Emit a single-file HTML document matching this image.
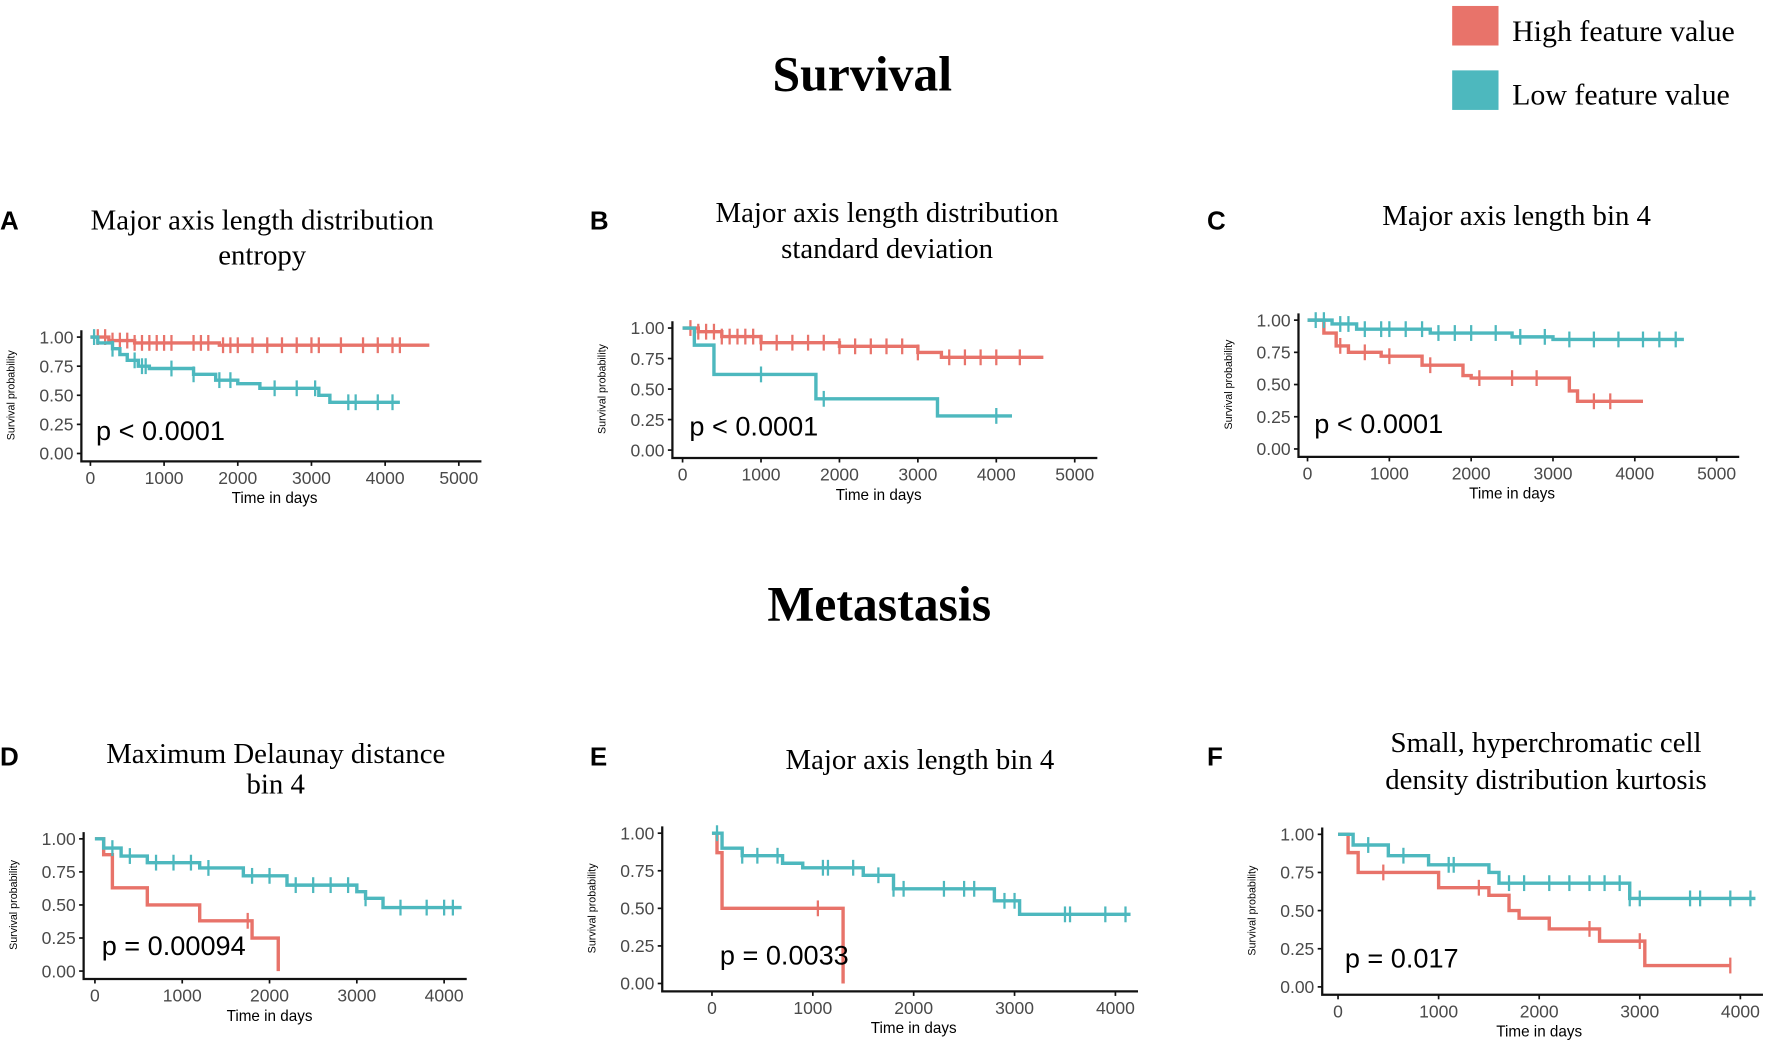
<!DOCTYPE html>
<html><head><meta charset="utf-8"><style>
html,body{margin:0;padding:0;background:#fff;width:1772px;height:1055px;overflow:hidden}
svg text{font-family:"Liberation Sans",sans-serif}
.serif{font-family:"Liberation Serif",serif !important}
</style></head><body>
<svg id="fig" width="1772" height="1055" viewBox="0 0 1568 933" xmlns="http://www.w3.org/2000/svg">
<text class="serif" x="763" y="80" text-anchor="middle" font-size="44" font-weight="bold">Survival</text>
<text class="serif" x="778" y="549" text-anchor="middle" font-size="44" font-weight="bold">Metastasis</text>
<g>
<rect x="1285" y="5" width="41" height="35" fill="#e8736a"/>
<text class="serif" x="1338" y="36" font-size="26.5">High feature value</text>
<rect x="1285" y="62" width="41" height="35" fill="#4db8be"/>
<text class="serif" x="1338" y="92" font-size="26.5">Low feature value</text>
</g>
</svg>
<script>
// ---- data (time in days, survival probability) ----
const aHighT=[0,250,600,1750,4600], aHighS=[1,0.97,0.95,0.93,0.93];
const aHighC=[100,200,300,400,500,600,700,800,900,1000,1100,1400,1500,1600,1800,1900,2000,2200,2400,2600,2800,3000,3100,3400,3700,3900,4100,4200];
const aLowT=[0,100,300,400,500,650,800,1400,1700,2000,2300,3100,3250,4200], aLowS=[1,0.95,0.9,0.85,0.8,0.75,0.73,0.68,0.63,0.6,0.56,0.5,0.44,0.44];
const aLowC=[50,300,600,700,750,1100,1400,1750,1900,2500,2800,3050,3500,3600,3900,4100];
const bHighT=[0,200,500,1000,2000,3000,3300,4600], bHighS=[1,0.97,0.93,0.88,0.85,0.8,0.76,0.76];
const bHighC=[100,200,300,400,500,600,700,800,900,1000,1200,1400,1600,1800,2000,2200,2400,2600,2800,3000,3400,3600,3800,4000,4300];
const bLowT=[0,150,400,1700,3250,4200], bLowS=[1,0.86,0.62,0.42,0.28,0.28];
const bLowC=[1000,1800,4000];
const cLowT=[0,300,600,1500,2500,3000,4600], cLowS=[1,0.97,0.93,0.9,0.87,0.85,0.85];
const cLowC=[100,200,400,500,700,900,1000,1200,1400,1600,1800,2000,2300,2600,2900,3200,3500,3800,4100,4300,4500];
const cHighT=[0,200,350,500,900,1400,1900,2000,3200,3300,4100], cHighS=[1,0.9,0.8,0.75,0.72,0.65,0.57,0.55,0.45,0.37,0.37];
const cHighC=[400,700,1000,1500,2100,2500,2800,3500,3700];
const dLowT=[0,100,300,600,1200,1700,2200,3000,3100,3300,4200], dLowS=[1,0.93,0.87,0.82,0.78,0.72,0.65,0.6,0.55,0.48,0.48];
const dLowC=[200,400,700,900,1100,1300,1800,2000,2300,2500,2700,2900,3100,3500,3800,4000,4100];
const dHighT=[0,100,200,600,1200,1800,2100], dHighS=[1,0.88,0.63,0.5,0.38,0.25,0];
const dHighC=[1750];
const eLowT=[0,100,300,700,900,1500,1800,2800,3050,4150], eLowS=[1,0.9,0.85,0.8,0.77,0.72,0.63,0.55,0.46,0.46];
const eLowC=[50,300,450,650,1100,1150,1400,1650,1800,1900,2300,2500,2600,2900,3000,3500,3550,3900,4100];
const eHighT=[0,50,100,1300,1300], eHighS=[1,0.87,0.5,0.5,0];
const eHighC=[1050];
const fLowT=[0,150,500,900,1500,1600,2900,4150], fLowS=[1,0.93,0.86,0.8,0.75,0.68,0.58,0.58];
const fLowC=[300,650,1100,1150,1700,1850,2100,2300,2500,2650,2800,2900,3000,3500,3600,3900,4100];
const fHighT=[0,100,200,1000,1500,1700,1800,2100,2600,3050,3900], fHighS=[1,0.88,0.75,0.65,0.6,0.5,0.45,0.38,0.3,0.14,0.14];
const fHighC=[450,1400,2500,3000,3900];
const xTicks5=[0,1000,2000,3000,4000,5000], xTicks4=[0,1000,2000,3000,4000];
const yTicks=[0,0.25,0.5,0.75,1];
const panels=[
 {id:'a',L:'A',lx:0,ly:203,title:['Major axis length distribution','entropy'],ty:[203,234],tc:232,ax:72,y1:298,y0:401,x0:80,xs:406,xmax:5000,ticks:xTicks5,p:'p < 0.0001',px:85,py:389,hi:[aHighT,aHighS,aHighC],lo:[aLowT,aLowS,aLowC]},
 {id:'b',L:'B',lx:522,ly:203,title:['Major axis length distribution','standard deviation'],ty:[196,228],tc:785,ax:595,y1:290,y0:398,x0:604,xs:951,xmax:5000,ticks:xTicks5,p:'p < 0.0001',px:610,py:385,hi:[bHighT,bHighS,bHighC],lo:[bLowT,bLowS,bLowC]},
 {id:'c',L:'C',lx:1068,ly:203,title:['Major axis length bin 4'],ty:[199],tc:1342,ax:1149,y1:283,y0:397,x0:1157,xs:1519,xmax:5000,ticks:xTicks5,p:'p < 0.0001',px:1163,py:383,hi:[cHighT,cHighS,cHighC],lo:[cLowT,cLowS,cLowC]},
 {id:'d',L:'D',lx:0,ly:677,title:['Maximum Delaunay distance','bin 4'],ty:[675,702],tc:244,ax:74,y1:742,y0:859,x0:84,xs:393,xmax:4000,ticks:xTicks4,p:'p = 0.00094',px:90,py:845,hi:[dHighT,dHighS,dHighC],lo:[dLowT,dLowS,dLowC]},
 {id:'e',L:'E',lx:522,ly:677,title:['Major axis length bin 4'],ty:[680],tc:814,ax:586,y1:737,y0:870,x0:630,xs:987,xmax:4000,ticks:xTicks4,p:'p = 0.0033',px:637,py:853,hi:[eHighT,eHighS,eHighC],lo:[eLowT,eLowS,eLowC]},
 {id:'f',L:'F',lx:1068,ly:677,title:['Small, hyperchromatic cell','density distribution kurtosis'],ty:[665,698],tc:1368,ax:1170,y1:738,y0:873,x0:1184,xs:1540,xmax:4000,ticks:xTicks4,p:'p = 0.017',px:1190,py:856,hi:[fHighT,fHighS,fHighC],lo:[fLowT,fLowS,fLowC]}
];
const NS='http://www.w3.org/2000/svg';
const fig=document.getElementById('fig');
function mk(tag,attrs,parent){const e=document.createElementNS(NS,tag);for(const k in attrs)e.setAttribute(k,attrs[k]);parent.appendChild(e);return e;}
function stepAt(T,S,t){let s=S[0];for(let i=0;i<T.length;i++){if(T[i]<=t)s=S[i];}return s;}
panels.forEach(p=>{
 const g=mk('g',{},fig);
 
 
 const X=t=>p.x0+(t/p.ticks[p.ticks.length-1])*(p.xs-p.x0);
 const Y=v=>p.y0-(v)*(p.y0-p.y1);
 const lab=mk('text',{x:p.lx,y:p.ly,'font-size':23,'font-weight':'bold'},g);lab.textContent=p.L;
 
 
 p.title.forEach((s,i)=>{const t=mk('text',{x:p.tc,y:p.ty[i],'text-anchor':'middle','font-size':25.5,class:'serif'},g);t.textContent=s;
  
  });
 const xr=X(p.xmax)+20;
 const ax=mk('path',{d:`M${p.ax} ${p.y1-6}V${p.y0+7}H${xr}`,fill:'none',stroke:'#111','stroke-width':2},g);
 
 
 yTicks.forEach(v=>{mk('line',{x1:p.ax-4,x2:p.ax,y1:Y(v),y2:Y(v),stroke:'#111','stroke-width':1.5},g);
  const t=mk('text',{x:p.ax-7,y:Y(v)+5.5,'text-anchor':'end','font-size':15.5,fill:'#4a4a4a'},g);t.textContent=v.toFixed(2);
  
  });
 p.ticks.forEach(v=>{mk('line',{x1:X(v),x2:X(v),y1:p.y0+7,y2:p.y0+11,stroke:'#111','stroke-width':1.5},g);
  const t=mk('text',{x:X(v),y:p.y0+27,'text-anchor':'middle','font-size':15.5,fill:'#4a4a4a'},g);t.textContent=v;
  
  });
 const xt=mk('text',{x:(p.x0+X(p.xmax))/2,y:p.y0+44,'text-anchor':'middle','font-size':13.5},g);xt.textContent='Time in days';
 
 
 const ym=(p.y0+p.y1)/2, yx=p.ax-59;
 const yt=mk('text',{x:yx,y:ym,'text-anchor':'middle','font-size':9.5,transform:`rotate(-90 ${yx} ${ym})`},g);yt.textContent='Survival probability';
 
 
 [['hi','#e8736a'],['lo','#4db8be']].forEach(([k,c])=>{
  const [T,S,C]=p[k];
  let d=`M${X(T[0])} ${Y(S[0])}`;
  for(let i=1;i<T.length;i++){d+=`H${X(T[i])}V${Y(S[i])}`;}
  const path=mk('path',{d:d,fill:'none',stroke:c,'stroke-width':3},g);
  
  
  C.forEach(t=>{const yy=Y(stepAt(T,S,t));
   const m=mk('line',{x1:X(t),x2:X(t),y1:yy-7,y2:yy+7,stroke:c,'stroke-width':2},g);
   
   });
 });
 const pt=mk('text',{x:p.px,y:p.py,'font-size':24},g);pt.textContent=p.p;
 
 
});
</script>
</body></html>
